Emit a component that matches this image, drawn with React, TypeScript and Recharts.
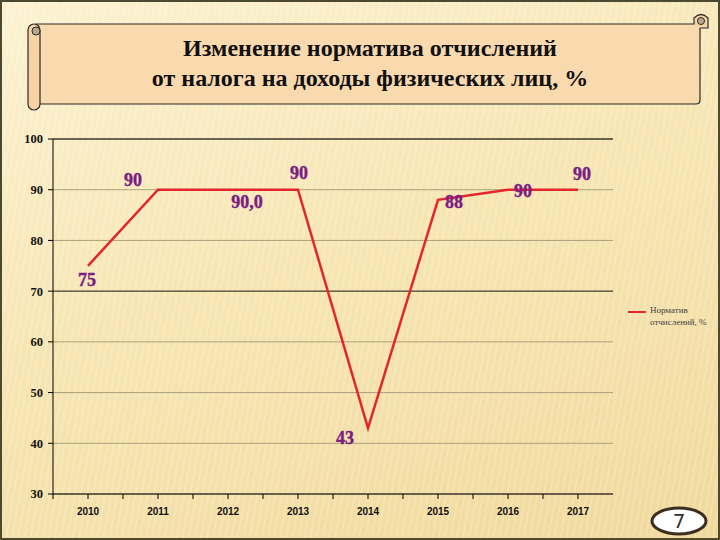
import {
  LineChart,
  Line,
  XAxis,
  YAxis,
  CartesianGrid,
  ReferenceLine,
  LabelList,
  Legend,
} from "recharts";

const years = ["2010", "2011", "2012", "2013", "2014", "2015", "2016", "2017"];
const rates = [75, 90, 90, 90, 43, 88, 90, 90];
const rateLabels = ["75", "90", "90,0", "90", "43", "88", "90", "90"];
const yTicks = [30, 40, 50, 60, 70, 80, 90, 100];
const seriesName = "Норматив отчислений, %";
const legendLines = ["Норматив", "отчислений, %"];
const titleLines = ["Изменение норматива отчислений", "от налога на доходы физических лиц, %"];
const pageNo = "7";

// how far each value label sits from its point (px)
const labelShift = [
  [-1, 14],
  [-25, -10],
  [19, 12],
  [1, -17],
  [-23, 10],
  [16, 2],
  [15, 1],
  [4, -16],
];

const data = years.map((year, i) => ({ year, rate: rates[i], label: rateLabels[i] }));

const PLOT_W = 560;
const BAND = PLOT_W / years.length;

function YearTick(props: any) {
  const { x, y, payload } = props;
  return (
    <g>
      <line x1={x - BAND / 2} x2={x - BAND / 2} y1={y} y2={y + 5} stroke="#000" />
      <line x1={x} x2={x} y1={y} y2={y + 5} stroke="#000" />
      <text
        x={x}
        y={y + 17}
        textAnchor="middle"
        dominantBaseline="central"
        fontFamily="'Liberation Sans', Arial, sans-serif"
        fontWeight="bold"
        fontSize={10}
        fill="#111"
      >
        {payload.value}
      </text>
    </g>
  );
}

function ValueLabel(props: any) {
  const { x, y, index, value } = props;
  const [dx, dy] = labelShift[index] || [0, -12];
  return (
    <text
      x={x + dx}
      y={y + dy}
      textAnchor="middle"
      dominantBaseline="central"
      fontFamily="'Liberation Serif', 'Times New Roman', serif"
      fontWeight="bold"
      fontSize={18}
      fill="#7a1e82"
      stroke="#7a1e82"
      strokeWidth={0.4}
    >
      {value}
    </text>
  );
}

function LegendBox() {
  return (
    <div style={{ display: "flex", alignItems: "flex-start" }}>
      <div style={{ width: 18, height: 2, background: "#e2262b", marginTop: 7, marginRight: 4 }} />
      <div
        style={{
          fontFamily: "'Liberation Serif', serif",
          fontSize: 9,
          lineHeight: "12px",
          color: "#444",
        }}
      >
        {legendLines.map((l) => (
          <div key={l}>{l}</div>
        ))}
      </div>
    </div>
  );
}

export default function App() {
  return (
    <div
      style={{
        position: "absolute",
        left: 0,
        top: 0,
        width: 720,
        height: 540,
        overflow: "hidden",
        boxSizing: "border-box",
        border: "2px solid #4b4a30",
        background:
          "repeating-linear-gradient(100deg, rgba(255,255,255,0.16) 0px, rgba(255,255,255,0.16) 2px, rgba(0,0,0,0) 2px, rgba(0,0,0,0) 6px), linear-gradient(160deg, #fcf2d2 0%, #f7e6b4 45%, #f0d99c 100%)",
      }}
    >
      <svg
        width={720}
        height={540}
        style={{ position: "absolute", left: -2, top: -2 }}
      >
        {/* scroll banner */}
        <path
          d="M36 24 L700 24 L700 100 Q700 104 696 104 L36 104 Z"
          fill="#f9d9ae"
          stroke="#2b2b2b"
          strokeWidth={1.2}
        />
        <rect x={28} y={24} width={12} height={86} rx={6} fill="#f7d3a4" stroke="#2b2b2b" strokeWidth={1.2} />
        <circle cx={36} cy={31} r={4} fill="#b9a98c" stroke="#2b2b2b" strokeWidth={1} />
        <path
          d="M694 24 L694 18 Q701 11 708 18 L708 28 L700 28"
          fill="#f7d3a4"
          stroke="#2b2b2b"
          strokeWidth={1.2}
        />
        <circle cx={701} cy={21} r={3.5} fill="#b9a98c" stroke="#2b2b2b" strokeWidth={1} />
        {titleLines.map((t, i) => (
          <text
            key={t}
            x={370}
            y={56 + i * 30}
            textAnchor="middle"
            fontFamily="'Liberation Serif', 'Times New Roman', serif"
            fontWeight="bold"
            fontSize={24}
            fill="#111"
          >
            {t}
          </text>
        ))}
        {/* slide number */}
        <ellipse cx={679} cy={521} rx={27} ry={13} fill="#fff" stroke="#3c2e1e" strokeWidth={3} />
        <text
          x={679}
          y={528}
          textAnchor="middle"
          fontFamily="'DejaVu Sans', sans-serif"
          fontSize={20}
          fill="#333"
        >
          {pageNo}
        </text>
      </svg>
      <div style={{ position: "absolute", left: -2, top: -2 }}>
        <LineChart
          width={720}
          height={540}
          data={data}
          margin={{ top: 139, right: 107, bottom: 16, left: 13 }}
        >
          <CartesianGrid vertical={false} stroke="#aaa27c" strokeWidth={1} />
          <XAxis
            dataKey="year"
            height={30}
            padding={{ left: BAND / 2, right: BAND / 2 }}
            axisLine={{ stroke: "#000" }}
            tickLine={false}
            tickSize={0}
            tickMargin={0}
            interval={0}
            tick={<YearTick />}
          />
          <YAxis
            domain={[30, 100]}
            ticks={yTicks}
            width={40}
            axisLine={{ stroke: "#000" }}
            tickLine={{ stroke: "#000" }}
            tickSize={5}
            tickMargin={5}
            tick={{
              fontFamily: "'Liberation Serif', serif",
              fontWeight: "bold",
              fontSize: 12.5,
              fill: "#111",
            }}
          />
          <YAxis
            yAxisId="frame"
            orientation="right"
            width={0}
            tick={false}
            tickLine={false}
            axisLine={{ stroke: "#000" }}
          />
          <ReferenceLine y={100} stroke="#000" />
          <ReferenceLine y={70} stroke="#3a3526" />
          <Legend
            layout="horizontal"
            verticalAlign="middle"
            align="center"
            wrapperStyle={{ left: 628, top: 304, width: 90 }}
            content={() => <LegendBox />}
          />
          <Line
            type="linear"
            dataKey="rate"
            name={seriesName}
            stroke="#e2262b"
            strokeWidth={2.5}
            dot={false}
            activeDot={false}
            isAnimationActive={false}
          >
            <LabelList dataKey="label" content={<ValueLabel />} />
          </Line>
        </LineChart>
      </div>
    </div>
  );
}
